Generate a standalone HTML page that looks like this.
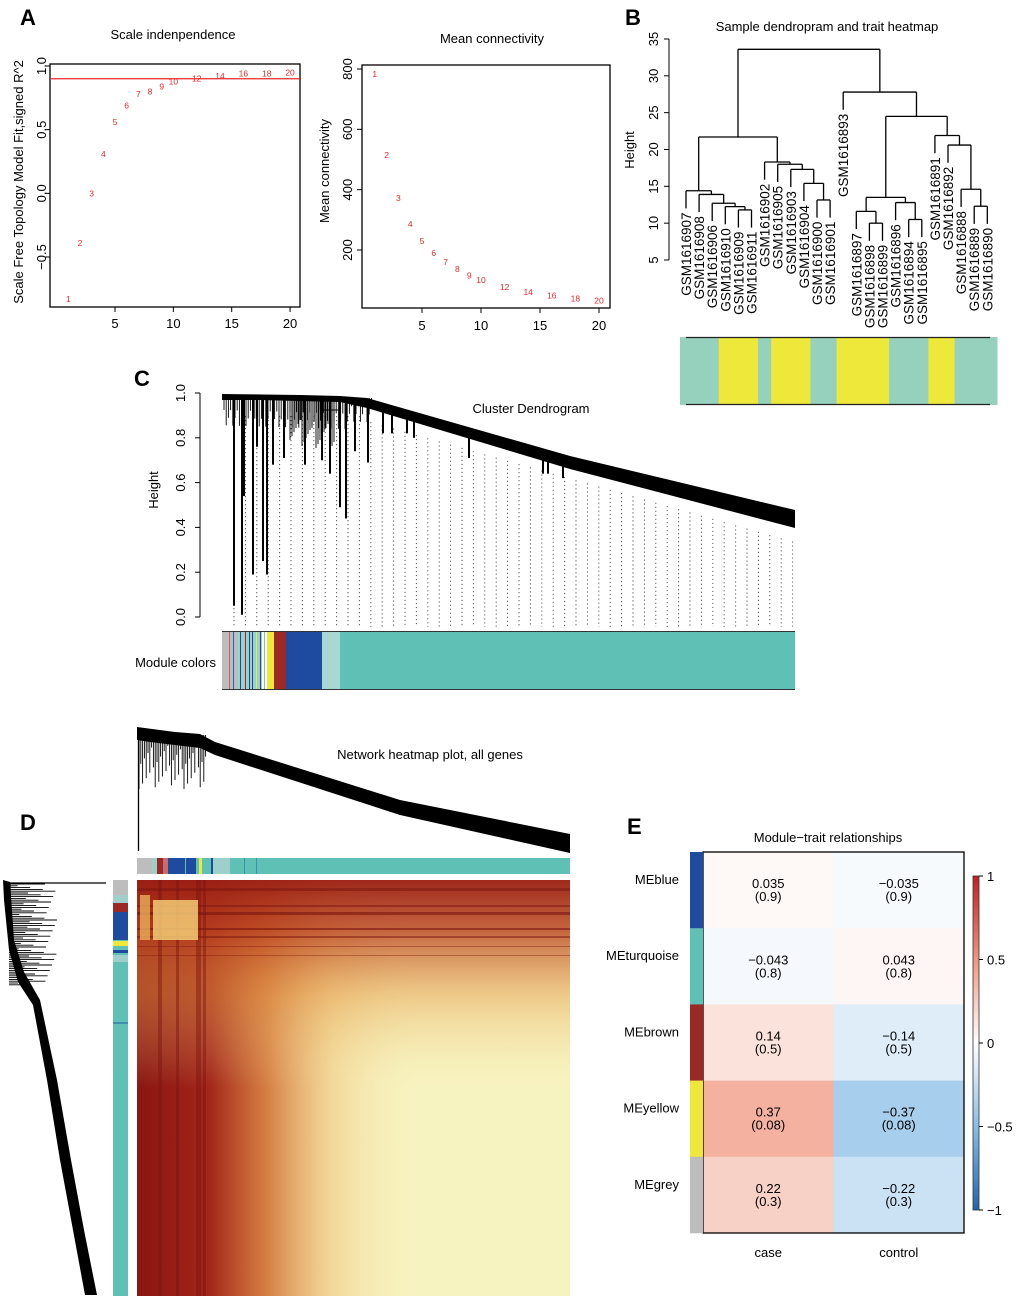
<!DOCTYPE html>
<html><head><meta charset="utf-8"><style>
body{margin:0;background:#fff;}
svg{display:block;font-family:"Liberation Sans",Arial,sans-serif;}
</style></head><body>
<svg id="fig" width="1020" height="1301" viewBox="0 0 1020 1301" xmlns="http://www.w3.org/2000/svg">
<defs>
<linearGradient id="hmX" x1="0" y1="0" x2="1" y2="0">
<stop offset="0" stop-color="#8a1610" stop-opacity="1"/>
<stop offset="0.17" stop-color="#a3261a" stop-opacity="1"/>
<stop offset="0.3" stop-color="#d06a2e" stop-opacity="0.85"/>
<stop offset="0.45" stop-color="#efc27a" stop-opacity="0.55"/>
<stop offset="0.65" stop-color="#f7eeb5" stop-opacity="0"/>
</linearGradient>
<linearGradient id="hmY" x1="0" y1="0" x2="0" y2="1">
<stop offset="0" stop-color="#9a1e14" stop-opacity="0.95"/>
<stop offset="0.12" stop-color="#b8401e" stop-opacity="0.8"/>
<stop offset="0.28" stop-color="#e39a48" stop-opacity="0.45"/>
<stop offset="0.5" stop-color="#f5e2a0" stop-opacity="0"/>
</linearGradient>
<linearGradient id="cbar" x1="0" y1="1" x2="0" y2="0">
<stop offset="0" stop-color="#2166ac"/>
<stop offset="0.25" stop-color="#88bde7"/>
<stop offset="0.5" stop-color="#ffffff"/>
<stop offset="0.75" stop-color="#f0967d"/>
<stop offset="1" stop-color="#c21e23"/>
</linearGradient>
</defs>
<g id="root"></g>
</svg>
<script>
// ---------- Panel A data ----------
const powers = [1,2,3,4,5,6,7,8,9,10,12,14,16,18,20];
const sftR2 = [-0.83,-0.39,0.0,0.31,0.56,0.69,0.78,0.80,0.84,0.88,0.90,0.92,0.94,0.94,0.95];
const meanK = [783,515,373,287,230,190,160,137,116,100,77,60,50,40,33];
const r2Ticks = [-0.5,0,0.5,1.0];
const r2TickLabels = ["\u22120.5","0.0","0.5","1.0"];
const kTicks = [200,400,600,800];
const xTicks = [5,10,15,20];
const r2Cutoff = 0.9;
// ---------- Panel B data ----------
const sampleNames = ["GSM1616907","GSM1616908","GSM1616906","GSM1616910","GSM1616909","GSM1616911","GSM1616902","GSM1616905","GSM1616903","GSM1616904","GSM1616900","GSM1616901","GSM1616893","GSM1616897","GSM1616898","GSM1616899","GSM1616896","GSM1616894","GSM1616895","GSM1616891","GSM1616892","GSM1616888","GSM1616889","GSM1616890"];
const sampleTrait = [0,0,0,1,1,1,0,1,1,1,0,0,1,1,1,1,0,0,0,1,1,0,0,0];
const sampleMerges = [
 [-5,-6,11.8],[-4,1,12.25],[-3,2,12.7],[-2,3,13.9],[-1,4,14.4],
 [-11,-12,13.15],[-10,6,15.4],[-9,7,17.3],[-8,8,18.0],[-7,9,18.3],
 [5,10,21.7],
 [-15,-16,10.0],[-14,12,11.6],[-18,-19,10.5],[-17,14,12.8],[13,15,13.5],
 [-23,-24,12.3],[-22,17,14.6],[-21,18,20.6],[-20,19,21.9],
 [16,20,24.5],[-13,21,27.8],[11,22,33.6]
];
const bTicks = [5,10,15,20,25,30,35];
const sampleHang = 2.4;
// ---------- Panel C data ----------
const cTicks = [0,0.2,0.4,0.6,0.8,1.0];
const cSpikeX = [234,242,244,253,257,263,267,273,284,305,322,330,340,346,355,368,383,392,407,414,469,543,548,563];
const cSpikeH = [0.05,0.01,0.54,0.19,0.76,0.25,0.19,0.68,0.71,0.68,0.70,0.64,0.49,0.44,0.74,0.69,0.82,0.82,0.82,0.80,0.71,0.64,0.64,0.62];
const cColorBlocks = [["#bdbdbd",222,237],["#9ecfca",237,262],["#eee83a",267,274],["#9b2a27",274,286],["#1e4ba0",286,322],["#a9d8d3",322,340],["#5fc0b6",340,795]];
const cColorLines = [[229,"#b56a6a"],[233,"#3a5fb0"],[240,"#1e4ba0"],[245,"#9b2a27"],[249,"#1e4ba0"],[252,"#1e4ba0"],[256,"#eee83a"],[260,"#1e4ba0"],[264,"#7fc0b8"]];
// ---------- Panel E data ----------
const modules = ["MEblue","MEturquoise","MEbrown","MEyellow","MEgrey"];
const moduleColors = ["#1e4ba0","#5fc0b6","#9b2a27","#eee83a","#bdbdbd"];
const traits = ["case","control"];
const corCase = [0.035,-0.043,0.14,0.37,0.22];
const corControl = [-0.035,0.043,-0.14,-0.37,-0.22];
const pCase = ["0.9","0.8","0.5","0.08","0.3"];
const pControl = ["0.9","0.8","0.5","0.08","0.3"];
const cbTicks = [1,0.5,0,-0.5,-1];
const cbTickLabels = ["1","0.5","0","\u22120.5","\u22121"];

const NS="http://www.w3.org/2000/svg";
const root=document.getElementById('root');
function mk(tag,attrs,parent){const e=document.createElementNS(NS,tag);for(const k in attrs)e.setAttribute(k,attrs[k]);(parent||root).appendChild(e);return e;}
function txt(s,attrs,parent){const e=mk('text',attrs,parent);e.textContent=s;return e;}
function fmt(v){return (v<0?"\u2212":"")+Math.abs(v).toString();}

[["A",20,25],["B",625,25],["C",134,386],["D",20,830],["E",627,834]].forEach(l=>{
 const t=txt(l[0],{x:l[1],y:l[2],'font-size':22,'font-weight':'bold'});
 
 
});

// ===== Panel A1 =====
(function(){
 const g=mk('g',{});
 
 
 const x0=50,x1=300,y0=64,y1=307;
 const sx=v=>115+(v-5)*11.67, sy=v=>66+(1-v)*(257-66)/1.5;
 mk('rect',{x:x0,y:y0,width:x1-x0,height:y1-y0,fill:'none',stroke:'#000','stroke-width':1.3},g);
 const t=txt("Scale indenpendence",{x:173,y:39,'font-size':13,'text-anchor':'middle'},g);
 
 
 const yl=txt("Scale Free Topology Model Fit,signed R^2",{x:0,y:0,'font-size':13,'text-anchor':'middle',transform:'translate(23,182) rotate(-90)'},g);
 
 
 r2Ticks.forEach((v,i)=>{const y=sy(v);mk('line',{x1:x0,x2:x0-5,y1:y,y2:y,stroke:'#000'},g);
  const tl=txt(r2TickLabels[i],{x:0,y:0,'font-size':13,'text-anchor':'middle',transform:`translate(46,${y}) rotate(-90)`},g);
  
  });
 xTicks.forEach(v=>{const x=sx(v);mk('line',{x1:x,x2:x,y1:y1,y2:y1+5,stroke:'#000'},g);
  const tl=txt(String(v),{x:x,y:328,'font-size':13,'text-anchor':'middle'},g);
  
  });
 const ln=mk('line',{x1:x0,x2:x1,y1:sy(r2Cutoff),y2:sy(r2Cutoff),stroke:'#e8282a','stroke-width':1.3},g);
 
 
 powers.forEach((p,i)=>{const pt=txt(String(p),{x:sx(p),y:sy(sftR2[i])+3,'font-size':8.5,fill:'#e8282a','text-anchor':'middle'},g);
  
  });
})();

// ===== Panel A2 =====
(function(){
 const g=mk('g',{});
 
 
 const x0=362,x1=610,y0=65,y1=308;
 const sx=v=>422+(v-5)*11.8, sy=v=>69+(800-v)*(250-69)/600;
 mk('rect',{x:x0,y:y0,width:x1-x0,height:y1-y0,fill:'none',stroke:'#000','stroke-width':1.3},g);
 const t=txt("Mean connectivity",{x:492,y:43,'font-size':13,'text-anchor':'middle'},g);
 
 
 const yl=txt("Mean connectivity",{x:0,y:0,'font-size':13,'text-anchor':'middle',transform:'translate(329,171) rotate(-90)'},g);
 
 
 kTicks.forEach(v=>{const y=sy(v);mk('line',{x1:x0,x2:x0-5,y1:y,y2:y,stroke:'#000'},g);
  const tl=txt(String(v),{x:0,y:0,'font-size':13,'text-anchor':'middle',transform:`translate(352,${y}) rotate(-90)`},g);
  
  });
 xTicks.forEach(v=>{const x=sx(v);mk('line',{x1:x,x2:x,y1:y1,y2:y1+5,stroke:'#000'},g);
  const tl=txt(String(v),{x:x,y:330,'font-size':13,'text-anchor':'middle'},g);
  
  });
 powers.forEach((p,i)=>{const pt=txt(String(p),{x:sx(p),y:sy(meanK[i])+3,'font-size':8.5,fill:'#e8282a','text-anchor':'middle'},g);
  
  });
})();

// ===== Panel B =====
(function(){
 const g=mk('g',{});
 
 
 const sy=h=>39+(35-h)*(260-39)/30;
 const lx=i=>686+i*13.1;
 const t=txt("Sample dendropram and trait heatmap",{x:827,y:31,'font-size':13,'text-anchor':'middle'},g);
 
 
 mk('line',{x1:669,x2:669,y1:sy(35),y2:sy(5),stroke:'#000'},g);
 bTicks.forEach(v=>{const y=sy(v);mk('line',{x1:669,x2:664,y1:y,y2:y,stroke:'#000'},g);
  const tl=txt(String(v),{x:0,y:0,'font-size':13,'text-anchor':'middle',transform:`translate(658,${y}) rotate(-90)`},g);
  
  });
 const yl=txt("Height",{x:0,y:0,'font-size':13,'text-anchor':'middle',transform:'translate(634,150) rotate(-90)'},g);
 
 
 const pos={},hgt={};
 function nodeX(id){return id<0?lx(-id-1):pos[id];}
 function nodeH(id){return id<0?null:hgt[id];}
 sampleMerges.forEach((m,k)=>{
  const id=k+1,h=m[2],y=sy(h);
  const xa=nodeX(m[0]),xb=nodeX(m[1]);
  [m[0],m[1]].forEach((c,j)=>{const x=j?xb:xa;const ch=nodeH(c);
   const yb=ch===null?sy(h-sampleHang):sy(ch);
   mk('line',{x1:x,x2:x,y1:y,y2:yb,stroke:'#000','stroke-width':1.3},g);
   if(ch===null){const lb=txt(sampleNames[-c-1],{x:0,y:0,'font-size':13.5,'text-anchor':'end',transform:`translate(${x+5},${yb+4}) rotate(-90)`},g);
    
    }
  });
  mk('line',{x1:xa,x2:xb,y1:y,y2:y,stroke:'#000','stroke-width':1.3},g);
  pos[id]=(xa+xb)/2;hgt[id]=h;
 });
 const hm=mk('g',{});
 
 
 sampleTrait.forEach((v,i)=>{
  const xs=i===0?680:lx(i)-6.55, xe=i===sampleTrait.length-1?997:lx(i)+6.55;
  const r=mk('rect',{x:xs,y:337,width:xe-xs+0.5,height:68,fill:v?'#ede83a':'#96d1be'},hm);
  
  
 });
 mk('line',{x1:686,x2:990,y1:337.5,y2:337.5,stroke:'#222','stroke-width':1.2},hm);
 mk('line',{x1:686,x2:990,y1:404.5,y2:404.5,stroke:'#222','stroke-width':1.2},hm);
})();

// ===== Panel C =====
(function(){
 const g=mk('g',{});
 
 
 const sy=h=>617-h*(617-393);
 mk('line',{x1:200,x2:200,y1:sy(0),y2:sy(1),stroke:'#000'},g);
 cTicks.forEach(v=>{const y=sy(v);mk('line',{x1:200,x2:195,y1:y,y2:y,stroke:'#000'},g);
  const tl=txt(v.toFixed(1),{x:0,y:0,'font-size':13,'text-anchor':'middle',transform:`translate(185,${y}) rotate(-90)`},g);
  
  });
 const yl=txt("Height",{x:0,y:0,'font-size':13,'text-anchor':'middle',transform:'translate(158,490) rotate(-90)'},g);
 
 
 const t=txt("Cluster Dendrogram",{x:531,y:413,'font-size':13,'text-anchor':'middle'},g);
 
 
 const bandBot=x=>x<367?402:407+(x-367)*0.283;
 for(let x=234;x<=795;x+=11.4){
  mk('line',{x1:x,x2:x,y1:bandBot(x)+14,y2:627,stroke:'#555','stroke-width':1,'stroke-dasharray':'1.2,2.8'},g);
 }
 const band=mk('polygon',{points:'222,394 300,395 340,396 367,398 570,456 795,510 795,528 570,469 367,408 340,402 300,401 260,400 222,400',fill:'#000'},g);
 
 
 // dense thin hanging branches in left region
 for(let x=224;x<372;x+=2.2){
  const d=8+((x*7)%23);
  mk('line',{x1:x,x2:x,y1:398,y2:398+d,stroke:'#000','stroke-width':0.9},g);
 }
 for(let x=290;x<335;x+=2){const d=20+((x*13)%30);mk('line',{x1:x,x2:x,y1:400,y2:400+d,stroke:'#000','stroke-width':0.9},g);}
 mk('polyline',{points:'295,397 320,397 320,410 340,410',fill:'none',stroke:'#000'},g);
 cSpikeX.forEach((x,i)=>{
  const l=mk('line',{x1:x,x2:x,y1:bandBot(x)-4,y2:sy(cSpikeH[i]),stroke:'#000','stroke-width':2},g);
  
  
 });
 const cb=mk('g',{});
 
 
 cColorBlocks.forEach(b=>mk('rect',{x:b[1],y:632,width:b[2]-b[1],height:57,fill:b[0]},cb));
 cColorLines.forEach(l=>mk('rect',{x:l[0],y:632,width:1,height:57,fill:l[1]},cb));
 mk('line',{x1:222,x2:795,y1:631.5,y2:631.5,stroke:'#333'},cb);
 mk('line',{x1:222,x2:795,y1:689.5,y2:689.5,stroke:'#333'},cb);
 const ml=txt("Module colors",{x:216,y:667,'font-size':13,'text-anchor':'end'},g);
 
 
})();

// ===== Panel D =====
(function(){
 const g=mk('g',{});
 
 
 const t=txt("Network heatmap plot, all genes",{x:430,y:759,'font-size':13,'text-anchor':'middle'},g);
 
 
 const td=mk('g',{});
 
 
 mk('polygon',{points:'137,727 175,732 200,734 215,742 400,800 570,834 570,853 400,815 215,755 200,748 150,742 137,740',fill:'#000'},td);
 for(let x=139;x<206;x+=1.8){
  const d=10+((x*11)%45);
  mk('line',{x1:x,x2:x,y1:735,y2:735+d,stroke:'#000','stroke-width':0.9},td);
 }
 mk('line',{x1:138.5,x2:138.5,y1:728,y2:851,stroke:'#000','stroke-width':1.3},td);
 mk('line',{x1:150,x2:176,y1:734,y2:734,stroke:'#000'},td);
 const tc=mk('g',{});
 
 
 [["#5fc0b6",137,570],["#bdbdbd",137,152],["#9ecfca",152,157],["#9b2a27",157,163],["#c86b6b",163,168],["#1e4ba0",168,196],["#5fc0b6",185,186],["#eee83a",199,202],["#1e4ba0",211,213],["#9ecfca",213,230],["#3f8fb0",244,245],["#3f8fb0",256,257]].forEach(b=>mk('rect',{x:b[1],y:858,width:b[2]-b[1],height:16,fill:b[0]},tc));
 const ld=mk('g',{});
 
 
 mk('polygon',{points:'3,880 10,882 14,940 24,972 40,1000 57,1080 71,1160 84,1230 97,1295 85,1295 73,1230 60,1160 47,1080 33,1005 18,982 9,950 4,900',fill:'#000'},ld);
 mk('line',{x1:5,x2:106,y1:883,y2:883,stroke:'#000','stroke-width':1.3},ld);
 mk('line',{x1:10,x2:10,y1:883,y2:940,stroke:'#000','stroke-width':1.3},ld);
 for(let y=884;y<985;y+=1.8){
  const d=8+((y*7)%40);
  mk('line',{x1:9,x2:9+d,y1:y,y2:y,stroke:'#000','stroke-width':0.9},ld);
 }
 const lc=mk('g',{});
 
 
 [["#5fc0b6",880,1296],["#bdbdbd",880,895],["#9ecfca",895,903],["#9b2a27",903,912],["#1e4ba0",912,940],["#eee83a",941,946],["#1e4ba0",950,953],["#9ecfca",955,962],["#3f8fb0",1022,1024]].forEach(b=>mk('rect',{x:113,y:b[1],width:15,height:b[2]-b[1],fill:b[0]},lc));
 const hm=mk('g',{});
 
 
 mk('rect',{x:137,y:880,width:433,height:416,fill:'#f7f3c0'},hm);
 mk('rect',{x:137,y:880,width:433,height:416,fill:'url(#hmX)'},hm);
 mk('rect',{x:137,y:880,width:433,height:416,fill:'url(#hmY)'},hm);
 [[888,3,0.5],[905,2,0.5],[912,3,0.6],[928,2,0.6],[936,2,0.5],[946,1,0.4],[955,1,0.4]].forEach(s=>mk('rect',{x:137,y:s[0],width:433,height:s[1],fill:'#7a1410',opacity:s[2]},hm));
 [[158,4],[176,3],[196,5],[203,3]].forEach(s=>mk('rect',{x:s[0],y:880,width:s[1],height:416,fill:'#7a1410',opacity:0.45},hm));
 mk('rect',{x:140,y:895,width:10,height:45,fill:'#f2c064',opacity:0.7},hm);
 mk('rect',{x:153,y:900,width:45,height:40,fill:'#f8d47a',opacity:0.8},hm);
})();

// ===== Panel E =====
(function(){
 const g=mk('g',{});
 
 
 const t=txt("Module\u2212trait relationships",{x:828,y:842,'font-size':13,'text-anchor':'middle'},g);
 
 
 const x0=703,cw=130.5,y0=852,rh=76.2;
 function col(v){
  const a=Math.abs(v);let c0,c1,t;
  const pos=[[255,255,255],[240,150,125],[194,30,35]], neg=[[255,255,255],[136,189,231],[33,102,172]];
  const s=v>=0?pos:neg;
  if(a<=0.5){c0=s[0];c1=s[1];t=a/0.5;}else{c0=s[1];c1=s[2];t=(a-0.5)/0.5;}
  return `rgb(${c0.map((c,i)=>Math.round(c+(c1[i]-c)*t)).join(',')})`;
 }
 [corCase,corControl].forEach((arr,j)=>{
  const pv=j?pControl:pCase;
  arr.forEach((v,i)=>{
   const r=mk('rect',{x:x0+j*cw,y:y0+i*rh,width:cw+0.3,height:rh+0.3,fill:col(v)},g);
   
   
   const cx=x0+j*cw+cw/2, cy=y0+i*rh+rh/2;
   const a=txt(fmt(v),{x:cx,y:cy-2,'font-size':13,'text-anchor':'middle'},g);
   
   
   const b=txt('('+pv[i]+')',{x:cx,y:cy+11,'font-size':13,'text-anchor':'middle'},g);
   
   
  });
 });
 mk('rect',{x:x0,y:y0,width:2*cw,height:5*rh,fill:'none',stroke:'#000','stroke-width':1.3},g);
 modules.forEach((m,i)=>{
  const s=mk('rect',{x:690,y:y0+i*rh,width:13,height:rh+0.3,fill:moduleColors[i]},g);
  
  
  const l=txt(m,{x:679,y:y0+i*rh+32,'font-size':13,'text-anchor':'end'},g);
  
  
 });
 traits.forEach((tr,j)=>{
  const l=txt(tr,{x:x0+j*cw+cw/2,y:1257,'font-size':13,'text-anchor':'middle'},g);
  
  
 });
 const cby=v=>1043-v*167;
 const cbr=mk('rect',{x:973,y:876,width:6,height:334,fill:'url(#cbar)',stroke:'#333','stroke-width':0.8},g);
 
 
 cbTicks.forEach((v,i)=>{const y=cby(v);mk('line',{x1:979,x2:983,y1:y,y2:y,stroke:'#000'},g);
  const l=txt(cbTickLabels[i],{x:987,y:y+5,'font-size':13},g);
  
  });
})();
</script>
</body></html>
